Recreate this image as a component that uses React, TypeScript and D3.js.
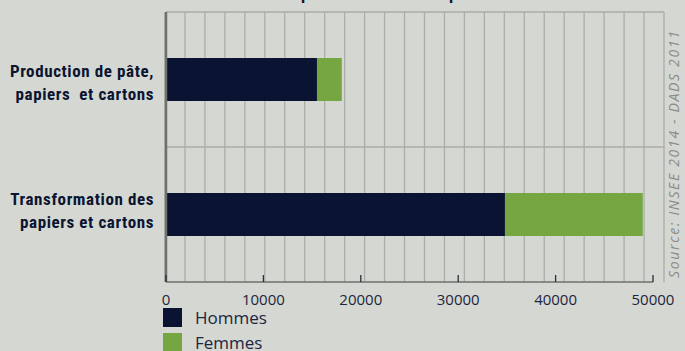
import React from "react";
import * as d3 from "d3";

// Effectifs salariés par activité et par sexe
const categories = ["Production de pâte,\npapiers  et cartons", "Transformation des\npapiers et cartons"];
const hommes = [15500, 34800];
const femmes = [2550, 14150];
const seriesNames = ["Hommes", "Femmes"];
const seriesColors = ["#0a1331", "#76a642"];
const xTicks = [0, 10000, 20000, 30000, 40000, 50000];
const gridSteps = d3.range(0, 26);

const W = 685;
const H = 351;
const plot = { left: 166, right: 653, top: 12, bottom: 282, frameRight: 664 };
const BG = "#d5d8d2";
const INK = "#0b1431";
const LABEL_FONT = "'Liberation Sans Narrow', 'Arial Narrow', 'Roboto Condensed', sans-serif";
const TICK_FONT = "'Open Sans', 'DejaVu Sans', sans-serif";
// first-line baseline offset from the band centre, per category label
const labelOffsets = [-3, -10];
const labelLineGap = 23;

export default function App() {
  const x = d3.scaleLinear().domain([0, 50000]).range([plot.left, plot.right]);
  const gx = d3.scaleLinear().domain([0, 25]).range([plot.left - 1, plot.frameRight]);
  const y = d3.scaleBand().domain(categories).range([plot.top, plot.bottom]);
  const barH = 43;
  const fmt = d3.format("d");

  const stacked = categories.map((c, i) => ({
    cat: c,
    parts: [
      { x0: 0, x1: hommes[i], color: seriesColors[0] },
      { x0: hommes[i], x1: hommes[i] + femmes[i], color: seriesColors[1] },
    ],
  }));

  return (
    <svg
      width={W}
      height={H}
      style={{ position: "absolute", left: 0, top: 0, display: "block", background: BG }}
    >
      <rect x={0} y={0} width={W} height={H} fill={BG} />

      {/* title, mostly above the visible frame */}
      <text
        x={395}
        y={0}
        textAnchor="middle"
        fontFamily={LABEL_FONT}
        fontWeight="bold"
        fontSize={17}
        fill={INK}
      >
        Répartition des salariés par sexe
      </text>

      {/* background grid */}
      {gridSteps.map((g) => (
        <line
          key={"g" + g}
          x1={gx(g)}
          x2={gx(g)}
          y1={plot.top}
          y2={plot.bottom}
          stroke="#abada8"
          strokeWidth={1.3}
        />
      ))}
      {categories.map((c, i) => (
        <line
          key={"h" + i}
          x1={plot.left}
          x2={plot.frameRight}
          y1={y(c) as number}
          y2={y(c) as number}
          stroke="#abada8"
          strokeWidth={1.3}
        />
      ))}

      {/* bars */}
      {stacked.map((s) => {
        const cy = (y(s.cat) as number) + y.bandwidth() / 2;
        return (
          <g key={s.cat}>
            {s.parts.map((p, j) => (
              <rect
                key={j}
                x={x(p.x0)}
                y={cy - barH / 2}
                width={x(p.x1) - x(p.x0)}
                height={barH}
                fill={p.color}
              />
            ))}
          </g>
        );
      })}

      {/* category labels */}
      {categories.map((c, i) => {
        const cy = (y(c) as number) + y.bandwidth() / 2;
        const lines = c.split("\n");
        return (
          <text
            key={"l" + c}
            textAnchor="end"
            fontFamily={LABEL_FONT}
            fontWeight="bold"
            fontSize={17}
            letterSpacing={0.6}
            fill={INK}
            style={{ whiteSpace: "pre" }}
          >
            {lines.map((ln, k) => (
              <tspan key={k} x={154} y={cy + labelOffsets[i] + k * labelLineGap}>
                {ln}
              </tspan>
            ))}
          </text>
        );
      })}

      {/* axes */}
      <line x1={plot.left} x2={plot.left} y1={plot.top} y2={plot.bottom} stroke="#6f716d" strokeWidth={2.5} />
      <line x1={plot.left} x2={plot.right} y1={plot.bottom} y2={plot.bottom} stroke="#6f716d" strokeWidth={1.3} />
      {xTicks.map((t) => (
        <g key={"t" + t}>
          <line x1={x(t)} x2={x(t)} y1={plot.bottom - 7} y2={plot.bottom} stroke="#2a2e35" strokeWidth={1.3} />
          <text
            x={x(t)}
            y={305}
            textAnchor="middle"
            fontFamily={TICK_FONT}
            fontSize={15}
            fill="#1c2540"
          >
            {fmt(t)}
          </text>
        </g>
      ))}

      {/* legend */}
      {seriesNames.map((n, i) => (
        <g key={"lg" + n} transform={`translate(163, ${308 + i * 25})`}>
          <rect x={0} y={0} width={19} height={19} fill={seriesColors[i]} />
          <text x={32} y={16} fontFamily={TICK_FONT} fontSize={17} fill="#1c2540">
            {n}
          </text>
        </g>
      ))}

      {/* source */}
      <text
        transform="translate(679, 278) rotate(-90)"
        fontFamily={TICK_FONT}
        fontStyle="italic"
        fontSize={14}
        fill="#8a8c88"
        textLength={247}
        lengthAdjust="spacing"
      >
        Source: INSEE 2014 - DADS 2011
      </text>
    </svg>
  );
}
